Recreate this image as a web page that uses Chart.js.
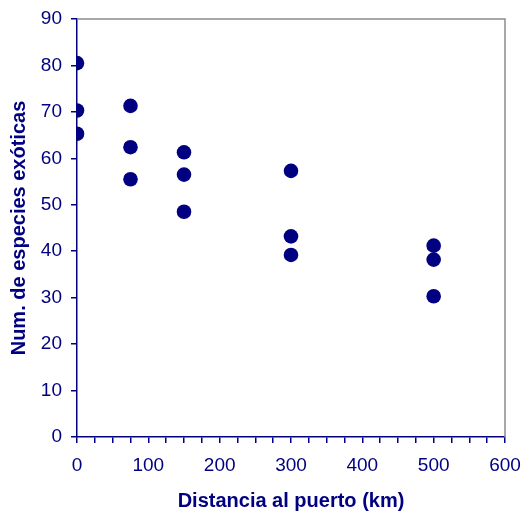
<!DOCTYPE html>
<html lang="es">
<head>
  <meta charset="UTF-8" />
  <title>Especies exóticas vs distancia</title>
  <script src="https://cdn.jsdelivr.net/npm/chart.js"></script>
  <style>
    body {
      margin: 0;
      padding: 0;
      background: #ffffff;
    }
    .wrap {
      width: 527px;
      height: 513px;
    }
  </style>
</head>
<body>
  <div class="wrap">
    <canvas id="scatter" width="527" height="513"></canvas>
  </div>

  <script>
    // distance to port (km) and number of exotic species
    const distancias = [0, 0, 0, 75, 75, 75, 150, 150, 150, 300, 300, 300, 500, 500, 500];
    const especies = [80.5, 70.3, 65.3, 71.3, 62.4, 55.5, 61.3, 56.5, 48.5, 57.3, 43.2, 39.2, 41.2, 38.2, 30.3];

    const xLabels = [0, 100, 200, 300, 400, 500, 600];
    const yLabels = [0, 10, 20, 30, 40, 50, 60, 70, 80, 90];

    const navy = '#000080';

    const puntos = distancias.map((d, i) => ({ x: d, y: especies[i] }));

    // gray frame on the top and right side of the plot area
    const frame = {
      id: 'frame',
      afterDraw(chart) {
        const { ctx, chartArea } = chart;
        ctx.save();
        ctx.strokeStyle = '#8c8c8c';
        ctx.lineWidth = 1.5;
        ctx.beginPath();
        ctx.moveTo(chartArea.left, chartArea.top);
        ctx.lineTo(chartArea.right, chartArea.top);
        ctx.lineTo(chartArea.right, chartArea.bottom);
        ctx.stroke();
        ctx.restore();
      }
    };

    Chart.defaults.font.family = "'Liberation Sans', Arial, sans-serif";
    Chart.defaults.color = navy;

    new Chart(document.getElementById('scatter'), {
      type: 'scatter',
      data: {
        datasets: [{
          data: puntos,
          backgroundColor: navy,
          borderWidth: 0,
          pointRadius: 7.3,
          pointHoverRadius: 7.3
        }]
      },
      options: {
        responsive: false,
        animation: false,
        layout: { padding: { top: 19, right: 22, bottom: 0, left: 0 } },
        plugins: {
          legend: { display: false },
          tooltip: { enabled: false }
        },
        scales: {
          x: {
            type: 'linear',
            min: 0,
            max: 600,
            ticks: {
              stepSize: 25,
              autoSkip: false,
              maxRotation: 0,
              padding: 11,
              font: { size: 19 },
              callback: v => xLabels.includes(v) ? String(v) : ''
            },
            grid: {
              drawOnChartArea: false,
              drawTicks: true,
              tickLength: 6,
              color: navy,
              lineWidth: 1.5
            },
            border: { color: navy, width: 1.5 },
            title: {
              display: true,
              text: 'Distancia al puerto (km)',
              font: { size: 20, weight: 'bold' },
              padding: { top: 0, bottom: 0 }
            },
            afterFit(scale) {
              scale.height = 76;
              scale.paddingRight = 0;
              scale.paddingLeft = 0;
            }
          },
          y: {
            min: 0,
            max: 90,
            ticks: {
              stepSize: 10,
              padding: 9,
              font: { size: 19 },
              callback: v => yLabels.includes(v) ? String(v) : ''
            },
            grid: {
              drawOnChartArea: false,
              drawTicks: true,
              tickLength: 6,
              color: navy,
              lineWidth: 1.5
            },
            border: { color: navy, width: 1.5 },
            title: {
              display: true,
              text: 'Num. de especies exóticas',
              font: { size: 20, weight: 'bold' },
              padding: { top: 7, bottom: 0 }
            },
            afterFit(scale) {
              scale.width = 77;
              scale.paddingTop = 0;
              scale.paddingBottom = 0;
            }
          }
        }
      },
      plugins: [frame]
    });
  </script>
</body>
</html>
